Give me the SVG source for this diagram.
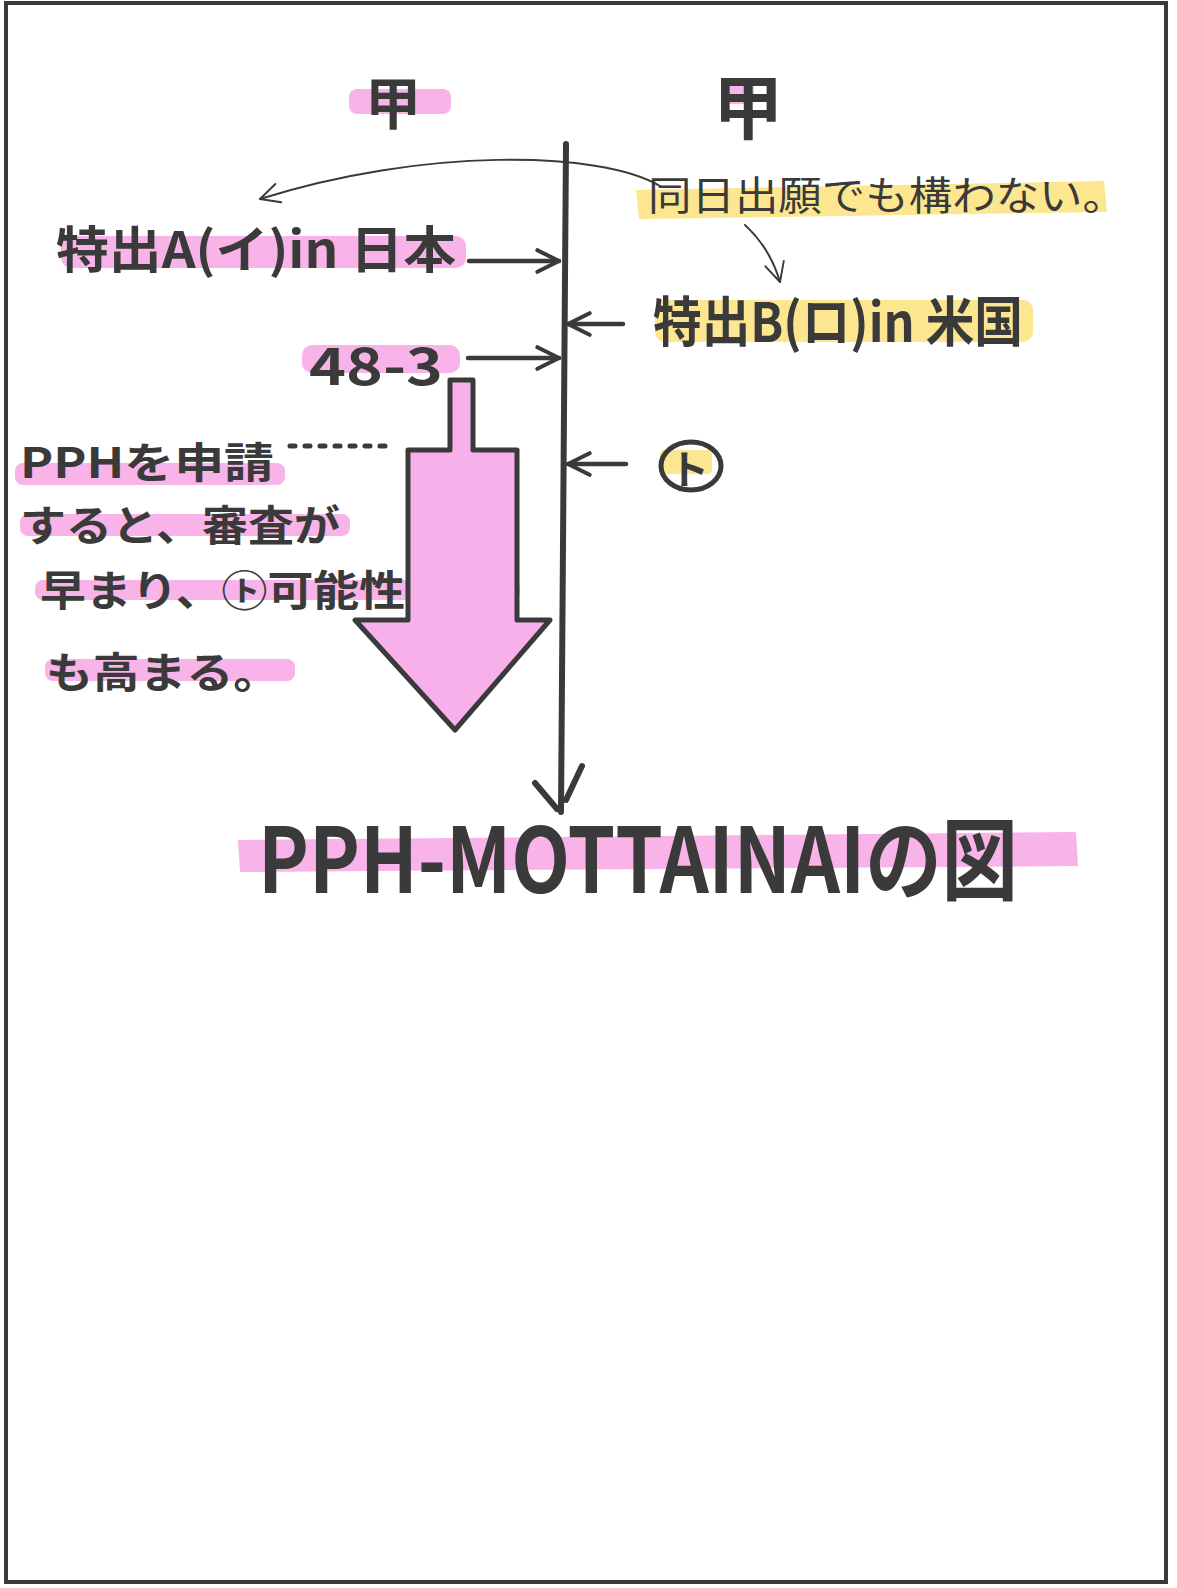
<svg xmlns="http://www.w3.org/2000/svg" width="1177" height="1588" viewBox="0 0 1177 1588">
  <defs>
    <style>
      .ink { fill: #3a3a3a; font-family: "Noto Sans CJK JP", "Liberation Sans", sans-serif; font-weight: 700; }
      .thin { fill: #3a3a3a; font-family: "Noto Sans CJK JP", "Liberation Sans", sans-serif; font-weight: 400; }
      .pink { fill: #f7a6e4; opacity: 0.85; }
      .yellow { fill: #fbe27c; opacity: 0.85; }
      .line { stroke: #3a3a3a; fill: none; stroke-linecap: round; stroke-linejoin: round; }
    </style>
    <marker id="open" viewBox="0 0 20 20" refX="18" refY="10" markerWidth="6" markerHeight="6" markerUnits="strokeWidth" orient="auto">
      <path d="M 2 2 L 18 10 L 2 18" fill="none" stroke="#3a3a3a" stroke-width="3" stroke-linecap="round" stroke-linejoin="round"/>
    </marker>
    <marker id="openThin" viewBox="0 0 20 20" refX="18" refY="10" markerWidth="12" markerHeight="12" markerUnits="strokeWidth" orient="auto">
      <path d="M 2 2 L 18 10 L 2 18" fill="none" stroke="#3a3a3a" stroke-width="1.6" stroke-linecap="round" stroke-linejoin="round"/>
    </marker>
  </defs>

  <rect x="0" y="0" width="1177" height="1588" fill="#ffffff"/>
  <rect x="6" y="3" width="1160" height="1579" fill="none" stroke="#3a3a3a" stroke-width="4"/>

  <!-- timeline -->
  <g id="timeline">
    <line class="line" x1="566" y1="144" x2="561" y2="812" stroke-width="6"/>
    <line class="line" x1="535" y1="783" x2="557" y2="809" stroke-width="6"/>
    <line class="line" x1="582" y1="766" x2="566" y2="800" stroke-width="6"/>
  </g>

  <g id="kou-left">
    <rect class="pink" x="349" y="89" width="102" height="25" rx="8"/>
    <text class="ink" x="393" y="124" font-size="56" text-anchor="middle">甲</text>
  </g>

  <g id="kou-right">
    <rect class="pink" x="722" y="82" width="32" height="22" rx="6"/>
    <text class="ink" x="748" y="134" font-size="70" text-anchor="middle">甲</text>
  </g>

  <g id="patent-a">
    <rect class="pink" x="61" y="236" width="405" height="32" rx="10"/>
    <text class="ink" x="56" y="268" font-size="50" textLength="400" lengthAdjust="spacingAndGlyphs">特出A(イ)in 日本</text>
  </g>

  <g id="same-day-note">
    <polygon class="yellow" points="636,190 1104,181 1107,212 639,219"/>
    <text class="thin" x="648" y="210" font-size="40" textLength="478" lengthAdjust="spacingAndGlyphs">同日出願でも構わない。</text>
  </g>

  <g id="patent-b">
    <rect class="yellow" x="655" y="300" width="378" height="42" rx="10"/>
    <text class="ink" x="653" y="342" font-size="54" textLength="370" lengthAdjust="spacingAndGlyphs">特出B(ロ)in 米国</text>
  </g>

  <g id="exam-request">
    <rect class="pink" x="302" y="345" width="158" height="28" rx="10"/>
    <text class="ink" x="309" y="385" font-size="52" textLength="134" lengthAdjust="spacingAndGlyphs">48-3</text>
  </g>

  <g id="grant-mark">
    <rect class="yellow" x="660" y="450" width="52" height="24" rx="4"/>
    <ellipse class="line" cx="691" cy="466" rx="30" ry="24" stroke-width="5"/>
    <text class="ink" x="689" y="484" font-size="40" text-anchor="middle">ト</text>
  </g>

  <g id="pph-note-marks">
    <rect class="pink" x="15" y="463" width="270" height="22" rx="8"/>
    <rect class="pink" x="20" y="514" width="330" height="22" rx="8"/>
    <rect class="pink" x="35" y="580" width="485" height="20" rx="8"/>
    <rect class="pink" x="45" y="659" width="250" height="22" rx="8"/>
  </g>

  <g id="big-arrow">
    <polygon points="450,380 473,380 473,450 517,450 517,620 550,620 455,730 355,620 408,620 408,450 450,450" fill="#f7b0ea" stroke="#3a3a3a" stroke-width="5" stroke-linejoin="round"/>
  </g>

  <g id="pph-note">
    <text class="ink" x="20" y="478" font-size="42" textLength="254" lengthAdjust="spacingAndGlyphs">PPHを申請</text>
    <text class="ink" x="20" y="541" font-size="42" textLength="320" lengthAdjust="spacingAndGlyphs">すると、審査が</text>
    <text class="ink" x="40" y="606" font-size="42" textLength="365" lengthAdjust="spacingAndGlyphs">早まり、㋣可能性</text>
    <text class="ink" x="46" y="688" font-size="42" textLength="234" lengthAdjust="spacingAndGlyphs">も高まる。</text>
  </g>

  <g id="title">
    <polygon class="pink" points="238,840 1076,832 1078,866 240,872"/>
    <text class="ink" x="258" y="893" font-size="90" textLength="760" lengthAdjust="spacingAndGlyphs">PPH-MOTTAINAIの図</text>
  </g>

  <g id="connectors">
    <path class="line" d="M 660 186 C 600 150, 420 148, 260 199" stroke-width="2" marker-end="url(#openThin)"/>
    <path class="line" d="M 745 225 Q 770 248 780 282" stroke-width="2" marker-end="url(#openThin)"/>
    <line class="line" x1="469" y1="261" x2="559" y2="261" stroke-width="4.5" marker-end="url(#open)"/>
    <line class="line" x1="468" y1="358" x2="559" y2="358" stroke-width="4.5" marker-end="url(#open)"/>
    <line class="line" x1="623" y1="324" x2="568" y2="324" stroke-width="4.5" marker-end="url(#open)"/>
    <line class="line" x1="626" y1="464" x2="568" y2="464" stroke-width="4.5" marker-end="url(#open)"/>
    <line class="line" x1="290" y1="446" x2="390" y2="446" stroke-width="5" stroke-dasharray="5 10"/>
  </g>
</svg>
